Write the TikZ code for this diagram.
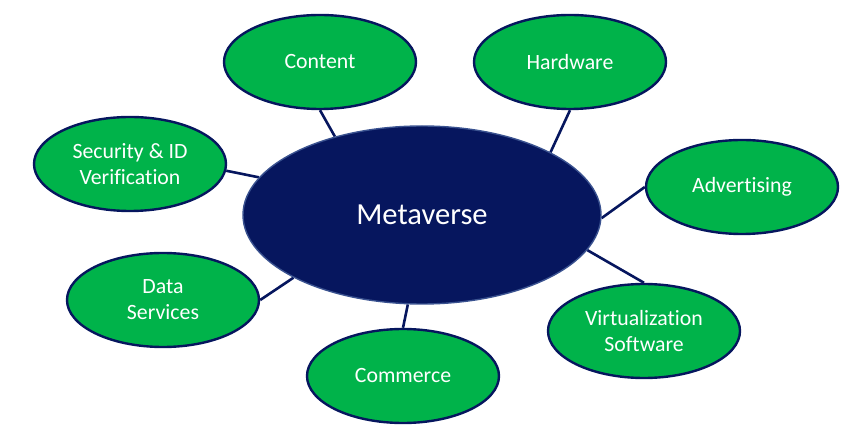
\documentclass[tikz,border=0pt]{standalone}
\usepackage{fontspec}
\setmainfont[Ligatures=NoCommon]{Carlito}
\usetikzlibrary{shapes.geometric,backgrounds}
\definecolor{ogreen}{HTML}{00B34A}
\definecolor{navy}{HTML}{06165E}
\definecolor{rimblue}{HTML}{3A5290}
\tikzset{
  leaf/.style={ellipse, draw=navy, line width=2.4bp, fill=ogreen, minimum width=192bp, minimum height=94bp, inner sep=0pt, text=white, font=\fontsize{21.8bp}{26bp}\selectfont, align=center},
  hub/.style={ellipse, draw=rimblue, line width=1.4bp, fill=navy, minimum width=358bp, minimum height=178bp, inner sep=0pt, text=white, font=\fontsize{30.6bp}{36bp}\selectfont},
  link/.style={draw=navy, line width=2.6bp}
}
\begin{document}
\begin{tikzpicture}[x=1bp,y=-1bp]
\useasboundingbox (0,0) rectangle (851,447);
\node[hub] (m) at (422,215) {Metaverse};
\node[leaf] (content) at (320,62) {Content};
\node[leaf] (hardware) at (570,62) {Hardware};
\node[leaf] (security) at (130,164) {Security \& ID\\Verification};
\node[leaf] (adv) at (742,187) {Advertising};
\node[leaf] (data) at (163,300) {Data\\Services};
\node[leaf] (virt) at (644,331) {Virtualization\\Software};
\node[leaf] (commerce) at (403,376) {Commerce};
\begin{scope}[on background layer]
\draw[link] (content.south) -- (m.138);
\draw[link] (hardware.south) -- (m.26);
\draw[link] (security.-4) -- (m.167);
\draw[link] (adv.west) -- (m.-1);
\draw[link] (data.east) -- (m.206);
\draw[link] (virt.north) -- (m.-12);
\draw[link] (commerce.north) -- (m.261);
\end{scope}
\end{tikzpicture}
\end{document}
